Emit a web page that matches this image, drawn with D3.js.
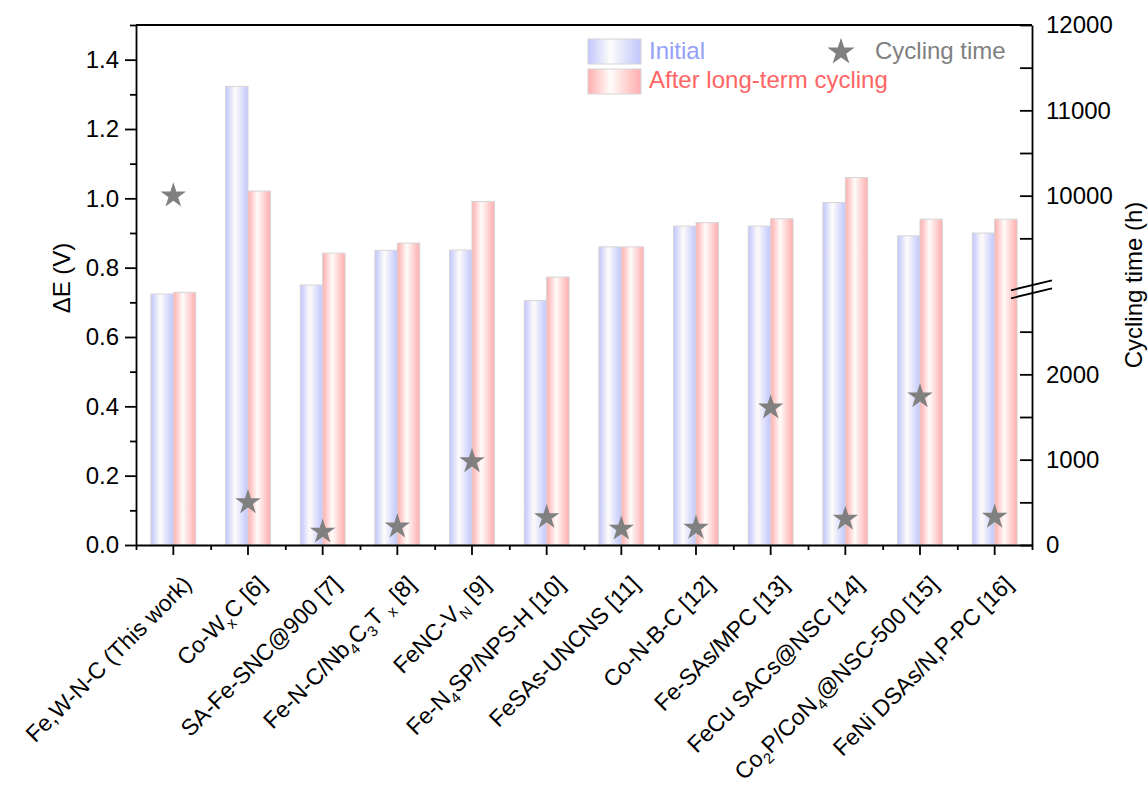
<!DOCTYPE html>
<html>
<head>
<meta charset="utf-8">
<script src="https://cdn.jsdelivr.net/npm/d3@7"></script>
<style>
  html, body { margin: 0; padding: 0; background: #fff; }
  svg { display: block; font-family: "Liberation Sans", Arial, sans-serif; }
</style>
</head>
<body>
<svg id="chart" width="1148" height="788"></svg>
<script>
// Catalysts compared (subscripts written as _{...})
const categories = [
  "Fe,W-N-C (This work)",
  "Co-W_{x}C [6]",
  "SA-Fe-SNC@900 [7]",
  "Fe-N-C/Nb_{4}C_{3}T _{x} [8]",
  "FeNC-V_{N} [9]",
  "Fe-N_{4}SP/NPS-H [10]",
  "FeSAs-UNCNS [11]",
  "Co-N-B-C [12]",
  "Fe-SAs/MPC [13]",
  "FeCu SACs@NSC [14]",
  "Co_{2}P/CoN_{4}@NSC-500 [15]",
  "FeNi DSAs/N,P-PC [16]"
];

// Voltage gap ΔE (V) before and after long-term cycling
const initialGap = [0.724, 1.323, 0.750, 0.850, 0.851, 0.705, 0.860, 0.920, 0.920, 0.988, 0.892, 0.900];
const afterGap   = [0.729, 1.021, 0.842, 0.871, 0.991, 0.773, 0.860, 0.930, 0.941, 1.060, 0.940, 0.940];

// Cycling time (h)
const cyclingTime = [10000, 500, 155, 215, 980, 325, 190, 200, 1610, 305, 1740, 330];

// Axis ticks
const leftTicks = [0, 0.2, 0.4, 0.6, 0.8, 1.0, 1.2, 1.4];
const leftMinor = [0.1, 0.3, 0.5, 0.7, 0.9, 1.1, 1.3, 1.5];
const rightTicks = [0, 1000, 2000, 10000, 11000, 12000];
const rightMinor = [500, 1500, 2500, 9500, 10500, 11500];
// Broken right axis: lower and upper segments
const lowerSegment = [0, 2950];
const upperSegment = [8950, 12000];

const svg = d3.select("#chart");
const margin = { left: 136, top: 25, right: 116, bottom: 243 };
const W = 1148 - margin.left - margin.right;   // 896
const H = 788 - margin.top - margin.bottom;    // 520
const g = svg.append("g").attr("transform", `translate(${margin.left},${margin.top})`);

// Scales
const x = d3.scaleBand().domain(categories).range([0, W]).paddingInner(0).paddingOuter(0);
const yL = d3.scaleLinear().domain([0, 1.5]).range([H, 0]);
const gap = 8;
const units = (lowerSegment[1] - lowerSegment[0]) + (upperSegment[1] - upperSegment[0]);
const k = (H - gap) / units;
const yLowTop = H - (lowerSegment[1] - lowerSegment[0]) * k;
const yR = d3.scaleLinear()
  .domain([lowerSegment[0], lowerSegment[1], upperSegment[0], upperSegment[1]])
  .range([H, yLowTop, yLowTop - gap, 0]);

// Gradients for the bars
const defs = svg.append("defs");
function grad(id, c) {
  const lg = defs.append("linearGradient").attr("id", id)
    .attr("x1", "0").attr("x2", "1").attr("y1", "0").attr("y2", "0");
  lg.append("stop").attr("offset", "0%").attr("stop-color", c);
  lg.append("stop").attr("offset", "42%").attr("stop-color", "#fefcfa");
  lg.append("stop").attr("offset", "100%").attr("stop-color", c);
}
grad("gBlue", "#c0c6fc");
grad("gRed", "#ffadad");

const barW = x.bandwidth() * 0.3;

// Bars
const bars = g.append("g");
bars.selectAll("rect.init").data(categories).join("rect")
  .attr("class", "init")
  .attr("x", d => x(d) + x.bandwidth() / 2 - barW)
  .attr("width", barW)
  .attr("y", (d, i) => yL(initialGap[i]))
  .attr("height", (d, i) => H - yL(initialGap[i]))
  .attr("fill", "url(#gBlue)")
  .attr("stroke", "#d6d6d6").attr("stroke-width", 1);
bars.selectAll("rect.after").data(categories).join("rect")
  .attr("class", "after")
  .attr("x", d => x(d) + x.bandwidth() / 2)
  .attr("width", barW)
  .attr("y", (d, i) => yL(afterGap[i]))
  .attr("height", (d, i) => H - yL(afterGap[i]))
  .attr("fill", "url(#gRed)")
  .attr("stroke", "#d6d6d6").attr("stroke-width", 1);

// Stars for cycling time
const star = d3.symbol().type(d3.symbolStar).size(200);
g.append("g").selectAll("path").data(categories).join("path")
  .attr("d", star)
  .attr("transform", (d, i) => `translate(${x(d) + x.bandwidth() / 2},${yR(cyclingTime[i])})`)
  .attr("fill", "#808080");

// Axes
const axisColor = "#000";
const fontSize = 24;
const labelSize = 23;

// Left axis
g.append("g")
  .call(d3.axisLeft(yL).tickValues(leftTicks).tickSize(11).tickSizeOuter(0).tickPadding(6)
    .tickFormat(d3.format(".1f")));
g.append("g")
  .call(d3.axisLeft(yL).tickValues(leftMinor).tickSize(6).tickFormat(""))
  .select(".domain").remove();

// Right axis (ticks pointing inward)
g.append("g").attr("transform", `translate(${W},0)`)
  .call(d3.axisRight(yR).tickValues(rightTicks).tickSizeInner(-12).tickSizeOuter(0).tickPadding(14)
    .tickFormat(d3.format("d")));
g.append("g").attr("transform", `translate(${W},0)`)
  .call(d3.axisRight(yR).tickValues(rightMinor).tickSizeInner(-12).tickSizeOuter(0).tickFormat(""))
  .select(".domain").remove();

// Bottom axis: major ticks at categories, minor at band edges
g.append("g").attr("transform", `translate(0,${H})`)
  .call(d3.axisBottom(x).tickSize(10).tickSizeOuter(0).tickFormat(""));
const edge = d3.scaleLinear().domain([0, categories.length]).range([0, W]);
g.append("g").attr("transform", `translate(0,${H})`)
  .call(d3.axisBottom(edge).tickValues(d3.range(categories.length + 1)).tickSize(5).tickFormat(""))
  .select(".domain").remove();

// Top frame
g.append("line").attr("x1", 0).attr("x2", W).attr("y1", 0).attr("y2", 0)
  .attr("stroke", axisColor).attr("stroke-width", 1.8);

g.selectAll(".domain, .tick line").attr("stroke", axisColor).attr("stroke-width", 1.8);
g.selectAll(".tick text").attr("font-size", fontSize).attr("fill", "#000")
  .attr("font-family", "'Liberation Sans', Arial, sans-serif");

// Axis break marks on the right axis
const yBreak = (yLowTop + (yLowTop - gap)) / 2;
[-4, 4].forEach(off => {
  g.append("line")
    .attr("x1", W - 21).attr("x2", W + 20)
    .attr("y1", yBreak + off + 5).attr("y2", yBreak + off - 5)
    .attr("stroke", "#000").attr("stroke-width", 1.8);
});

// Category labels (rotated, with subscripts)
function addRich(textSel, str) {
  const parts = str.split(/(_\{[^}]*\})/).filter(s => s.length);
  let sub = false;
  parts.forEach(p => {
    if (p.startsWith("_{")) {
      textSel.append("tspan").attr("font-size", 15).attr("dy", 6).text(p.slice(2, -1));
      sub = true;
    } else {
      textSel.append("tspan").attr("dy", sub ? -6 : 0).text(p);
      sub = false;
    }
  });
}
const labels = g.append("g");
categories.forEach(c => {
  const t = labels.append("text")
    .attr("transform", `translate(${x(c) + x.bandwidth() / 2 + 14},${H + 35}) rotate(-45)`)
    .attr("text-anchor", "end")
    .attr("y", 8)
    .attr("font-size", labelSize)
    .attr("fill", "#000");
  addRich(t, c);
});

// Axis titles
svg.append("text")
  .attr("transform", `translate(${70},${278}) rotate(-90)`)
  .attr("text-anchor", "middle")
  .attr("font-size", fontSize).attr("fill", "#000")
  .text("ΔE (V)");
svg.append("text")
  .attr("transform", `translate(${1142},${margin.top + H / 2}) rotate(-90)`)
  .attr("text-anchor", "middle")
  .attr("font-size", fontSize).attr("fill", "#000")
  .text("Cycling time (h)");

// Legend
const legend = svg.append("g");
legend.append("rect").attr("x", 588).attr("y", 39).attr("width", 53).attr("height", 25)
  .attr("fill", "url(#gBlue)").attr("stroke", "#d6d6d6");
legend.append("rect").attr("x", 588).attr("y", 69).attr("width", 53).attr("height", 25)
  .attr("fill", "url(#gRed)").attr("stroke", "#d6d6d6");
legend.append("text").attr("x", 649).attr("y", 59).attr("font-size", fontSize)
  .attr("fill", "#949ff6").text("Initial");
legend.append("text").attr("x", 649).attr("y", 88).attr("font-size", fontSize)
  .attr("fill", "#ff6464").text("After long-term cycling");
legend.append("path").attr("d", d3.symbol().type(d3.symbolStar).size(230))
  .attr("transform", "translate(841,52)").attr("fill", "#808080");
legend.append("text").attr("x", 875).attr("y", 59).attr("font-size", fontSize)
  .attr("fill", "#808080").text("Cycling time");
</script>
</body>
</html>
